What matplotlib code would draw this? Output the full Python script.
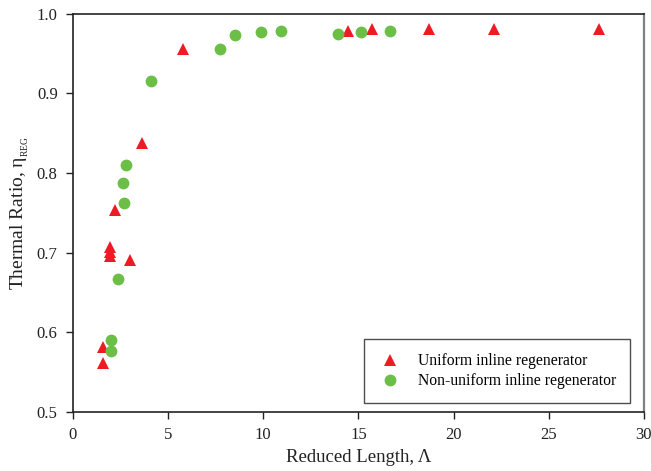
import matplotlib.pyplot as plt

plt.rcParams['font.family'] = 'Liberation Serif'
plt.rcParams['mathtext.fontset'] = 'custom'
plt.rcParams['mathtext.rm'] = 'Liberation Serif'

# uniform inline regenerator
uni_x = [1.56, 1.58, 1.94, 1.94, 1.94, 2.21, 3.0, 3.64, 5.76, 14.43, 15.71, 18.72, 22.14, 27.62]
uni_y = [0.561, 0.581, 0.696, 0.701, 0.707, 0.753, 0.691, 0.838, 0.955, 0.9775, 0.980, 0.980, 0.980, 0.980]

# non-uniform inline regenerator
non_x = [1.98, 1.98, 2.36, 2.70, 2.63, 2.79, 4.10, 7.74, 8.51, 9.90, 10.91, 13.94, 15.15, 16.67]
non_y = [0.577, 0.590, 0.667, 0.762, 0.787, 0.810, 0.9157, 0.9555, 0.973, 0.977, 0.9784, 0.9747, 0.977, 0.978]

red = '#ed1c24'
green = '#6cbf46'

fig = plt.figure(figsize=(6.51, 4.71), dpi=100)
ax = fig.add_axes([0.1121, 0.1253, 0.877, 0.846])

ax.plot(uni_x, uni_y, '^', color=red, markersize=8.5, markeredgewidth=0,
        label='Uniform inline regenerator')
ax.plot(non_x, non_y, 'o', color=green, markersize=8.5, markeredgewidth=0,
        label='Non-uniform inline regenerator')

ax.set_xlim(0, 30)
ax.set_ylim(0.5, 1.0)
ax.set_xticks(range(0, 31, 5))
ax.set_yticks([0.5, 0.6, 0.7, 0.8, 0.9, 1.0])
ax.set_yticklabels(['0.5', '0.6', '0.7', '0.8', '0.9', '1.0'])
ax.tick_params(direction='out', length=5, width=1, labelsize=12, colors='#222222', pad=6)

for side in ['left', 'bottom', 'top']:
    ax.spines[side].set_color('#222222')
    ax.spines[side].set_linewidth(1.2)
ax.spines['right'].set_color('#808080')
ax.spines['right'].set_linewidth(1.6)

ax.set_xlabel('Reduced Length, Λ', fontsize=13.5, color='#222222', labelpad=4)
ax.set_ylabel(r'Thermal Ratio, η$_{_{\mathrm{REG}}}$', fontsize=14, color='#222222', labelpad=4)

leg = ax.legend(loc='lower right', bbox_to_anchor=(0.976, 0.022), fontsize=11.3,
                frameon=True, fancybox=False, borderpad=0.9, handletextpad=1.0,
                labelspacing=0.25, handlelength=1.5, borderaxespad=0)
leg.get_frame().set_edgecolor('#222222')
leg.get_frame().set_linewidth(1.0)

fig.savefig('out.png', dpi=100)
